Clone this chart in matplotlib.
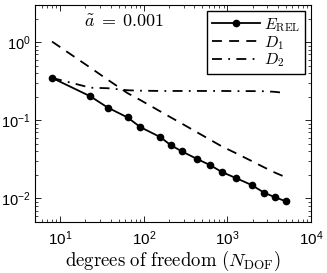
import numpy as np
import matplotlib
matplotlib.use('Agg')
from matplotlib import pyplot as plt

# data
N_dof = [8, 23, 37, 64, 91, 158, 211, 287, 435, 624, 853, 1259, 1945, 2736, 3680, 5000]
E_rel = [0.35, 0.203, 0.146, 0.109, 0.082, 0.061, 0.048, 0.040, 0.032, 0.0267,
         0.0219, 0.0183, 0.0149, 0.0119, 0.0104, 0.0092]
D1 = [1.02, 0.472, 0.332, 0.223, 0.182, 0.130, 0.109, 0.0906, 0.0702, 0.0564,
      0.0466, 0.0381, 0.0302, 0.0251, 0.0215, 0.0187]
D2 = [0.35, 0.262, 0.258, 0.243, 0.240, 0.238, 0.238, 0.238, 0.238, 0.238,
      0.238, 0.237, 0.237, 0.236, 0.232, 0.224]

xticks = [10, 100, 1000, 10000]
xticklabels = [r'$10^{1}$', r'$10^{2}$', r'$10^{3}$', r'$10^{4}$']
yticks = [0.01, 0.1, 1]
yticklabels = [r'$10^{-2}$', r'$10^{-1}$', r'$10^{0}$']

plt.rcParams['mathtext.fontset'] = 'cm'
plt.rcParams['mathtext.rm'] = 'Liberation Sans'
plt.rcParams['mathtext.it'] = 'Liberation Sans:italic'
plt.rcParams['mathtext.bf'] = 'Liberation Sans:bold'
plt.rcParams['font.family'] = 'Liberation Sans'

fig = plt.figure(figsize=(3.27, 2.73), dpi=100)
ax = fig.add_axes([35/327, 1 - 222/273, 276/327, 217/273])

ax.loglog(N_dof, E_rel, 'k-', marker='o', markersize=4.5, linewidth=1.3,
          label=r'$E_{\mathrm{REL}}$')
ax.loglog(N_dof, D1, 'k--', linewidth=1.3, dashes=(5.5, 4), label=r'$D_1$')
ax.loglog(N_dof, D2, 'k-.', linewidth=1.3, dashes=(5.5, 3.5, 1, 3.5), label=r'$D_2$')

ax.set_xlim(5, 10000)
ax.set_ylim(0.005, 3)
ax.set_xticks(xticks)
ax.set_xticklabels(xticklabels, math_fontfamily='custom', fontsize=11)
ax.set_yticks(yticks)
ax.set_yticklabels(yticklabels, math_fontfamily='custom', fontsize=10.5)
ax.tick_params(which='both', direction='in', top=True, right=True)
ax.tick_params(which='major', length=4, width=0.6)
ax.tick_params(axis='x', which='major', pad=5)
ax.tick_params(axis='y', which='major', pad=3)
ax.tick_params(which='minor', length=2, width=0.5)
for sp in ax.spines.values():
    sp.set_linewidth(0.8)

ax.set_xlabel(r'$\mathrm{degrees\ of\ freedom}\ (N_{\mathrm{DOF}})$',
              math_fontfamily='cm', fontsize=13.5, labelpad=1)
ax.text(0.322, 0.92, r'$\tilde{a}\;=\;0.001$', transform=ax.transAxes,
        ha='center', va='center', fontsize=13, math_fontfamily='cm')

leg = ax.legend(loc='upper right', fontsize=11.5, handlelength=3.0,
                labelspacing=0.0, borderpad=0.3, handletextpad=0.25,
                fancybox=False, framealpha=1, edgecolor='k',
                bbox_to_anchor=(0.978, 0.971), borderaxespad=0)
leg.get_frame().set_linewidth(1.0)
for t in leg.get_texts():
    t.set_math_fontfamily('cm')

fig.savefig('out.png', dpi=100)
